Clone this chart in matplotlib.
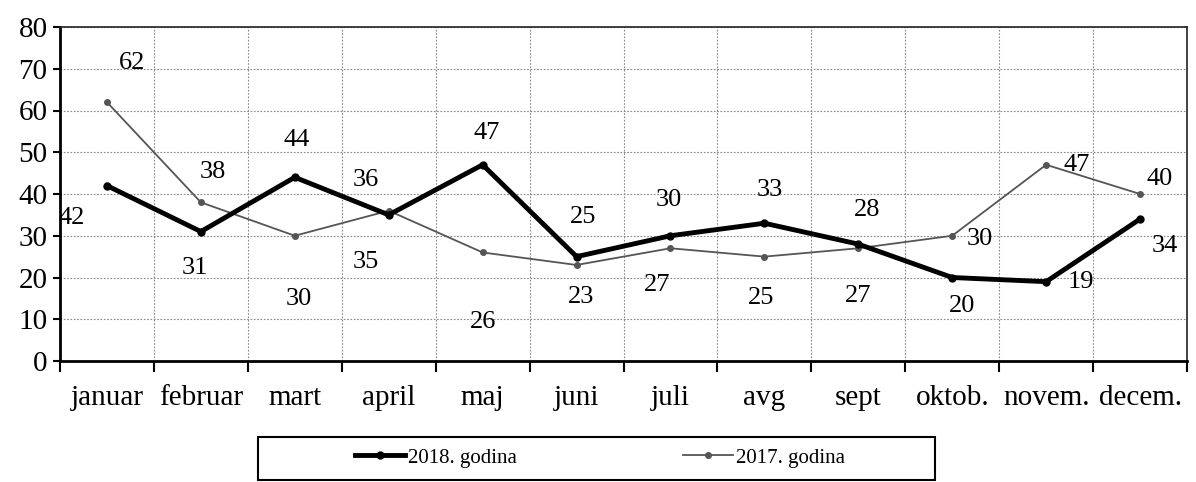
#coding:utf8

import matplotlib
matplotlib.use('Agg')
import matplotlib.pyplot as plt
from matplotlib.patches import Rectangle
from matplotlib.ticker import FixedLocator, NullFormatter, FixedFormatter

# podaci
months = ['januar', 'februar', 'mart', 'april', 'maj', 'juni', 'juli', 'avg',
          'sept', 'oktob.', 'novem.', 'decem.']
godina2018 = [42, 31, 44, 35, 47, 25, 30, 33, 28, 20, 19, 34]
godina2017 = [62, 38, 30, 36, 26, 23, 27, 25, 27, 30, 47, 40]
label2018 = '2018. godina'
label2017 = '2017. godina'
yTicks = [0, 10, 20, 30, 40, 50, 60, 70, 80]

# pomaci oznaka (pikseli) od tacke
off2018 = [(-35, -32), (-6, -36), (2, 37), (-23, -47), (4, 32), (7, 40),
           (-2, 36), (5, 33), (9, 34), (10, -28), (35, 0), (25, -27)]
off2017 = [(25, 39), (12, 30), (4, -63), (-23, 31), (0, -70), (5, -32),
           (-13, -37), (-3, -41), (0, -48), (28, -3), (31, 0), (20, 15)]


def plotChart():
    plt.rcParams['font.family'] = ['Liberation Serif', 'DejaVu Serif']
    fig = plt.figure(figsize=(11.96, 4.82), dpi=100)
    ax = fig.add_axes([60 / 1196, 1 - 361 / 482, 1127 / 1196, 334 / 482])

    x = list(range(len(months)))
    ax.plot(x, godina2017, color='#555555', lw=1.3, marker='o', ms=4,
            label=label2017, zorder=3)
    ax.plot(x, godina2018, color='black', lw=3.5, marker='o', ms=5,
            label=label2018, zorder=4)

    # oznake vrijednosti
    for i in x:
        ax.annotate(str(godina2018[i]), (i, godina2018[i]), xytext=off2018[i],
                    textcoords='offset pixels', ha='center', va='center',
                    fontsize=19)
        ax.annotate(str(godina2017[i]), (i, godina2017[i]), xytext=off2017[i],
                    textcoords='offset pixels', ha='center', va='center',
                    fontsize=19)

    ax.set_xlim(-0.5, len(months) - 0.5)
    ax.set_ylim(0, 80)

    # x osa: crtice na granicama, nazivi u sredini
    bounds = [i - 0.5 for i in range(len(months) + 1)]
    ax.xaxis.set_major_locator(FixedLocator(bounds))
    ax.xaxis.set_major_formatter(NullFormatter())
    ax.xaxis.set_minor_locator(FixedLocator(x))
    ax.xaxis.set_minor_formatter(FixedFormatter(months))
    ax.tick_params(axis='x', which='major', direction='out', length=8, width=1.5)
    ax.tick_params(axis='x', which='minor', length=0, pad=17, labelsize=21)

    ax.set_yticks(yTicks)
    ax.tick_params(axis='y', direction='out', length=5, width=1.5, labelsize=21, pad=4)

    ax.grid(True, which='major', axis='both', color='#888888', ls=(0, (1.5, 1.5)), lw=0.8)
    ax.set_axisbelow(True)

    for side in ['left', 'bottom']:
        ax.spines[side].set_linewidth(2)
        ax.spines[side].set_color('black')
    for side in ['top', 'right']:
        ax.spines[side].set_linewidth(1.2)
        ax.spines[side].set_color('#222222')

    # legenda u okviru
    fig.patches.append(Rectangle((258 / 1196, 2 / 482), 677 / 1196, 43 / 482,
                                 transform=fig.transFigure, fill=False,
                                 edgecolor='black', lw=1.5))
    handles, labels = ax.get_legend_handles_labels()
    fig.legend(handles[::-1], labels[::-1], loc='center',
               bbox_to_anchor=(600 / 1196, 1 - 458 / 482), ncol=2,
               frameon=False, fontsize=15, handlelength=2.4,
               handletextpad=0.15, columnspacing=8)

    fig.savefig('out.png', dpi=100)


if __name__ == '__main__':
    plotChart()
